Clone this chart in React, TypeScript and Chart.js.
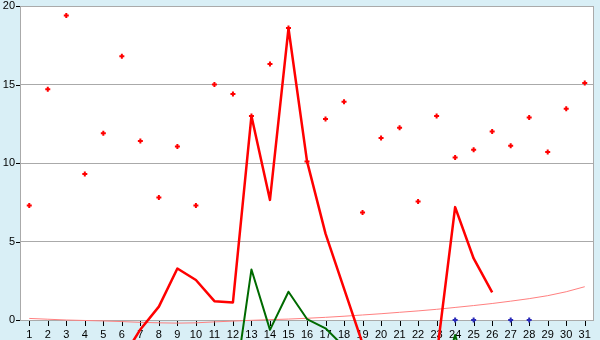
import React, { useEffect, useRef } from "react";
import { Chart, registerables } from "chart.js";
Chart.register(...registerables);

const days = Array.from({ length: 31 }, (_, i) => String(i + 1));

const markerValues = [7.3, 14.7, 19.4, 9.3, 11.9, 16.8, 11.4, 7.8, 11.05, 7.3, 15.0, 14.4, 13.0, 16.3, 18.6, 10.1, 12.8, 13.9, 6.85, 11.6, 12.25, 7.55, 13.0, 10.35, 10.85, 12.0, 11.1, 12.9, 10.7, 13.45, 15.1];

const redLine = [null, null, null, null, null, -2.5, -0.6, 0.85, 3.28, 2.55, 1.2, 1.12, 13.0, 7.65, 18.58, 10.12, 5.5, 2.0, -1.5, null, null, null, -2.3, 7.19, 3.92, 1.76, null, null, null, null, null];

const greenLine = [null, null, null, null, null, null, null, null, null, null, null, -5, 3.22, -0.63, 1.8, 0.06, -0.53, -1.7, null, null, null, null, -5, -0.95, -5, null, null, null, null, null, null];

const trendLine = [0.1, 0.05, 0.0, -0.03, -0.06, -0.1, -0.15, -0.18, -0.2, -0.18, -0.12, -0.07, -0.02, 0.02, 0.06, 0.11, 0.17, 0.24, 0.32, 0.4, 0.49, 0.58, 0.68, 0.8, 0.92, 1.05, 1.2, 1.36, 1.55, 1.8, 2.12];

const zeroMarks = [null, null, null, null, null, null, null, null, null, null, null, null, null, null, null, null, null, null, null, null, null, null, null, 0, 0, null, 0, 0, null, null, null];

const yTicks = [0, 5, 10, 15, 20];

const framePlugin = {
  id: "frame",
  beforeDraw(chart: any) {
    const { ctx, chartArea } = chart;
    ctx.save();
    ctx.fillStyle = "#d9eff6";
    ctx.fillRect(0, 0, chart.width, chart.height);
    ctx.fillStyle = "#ffffff";
    ctx.fillRect(chartArea.left, chartArea.top, chartArea.right - chartArea.left, chartArea.bottom - chartArea.top);
    ctx.restore();
  },
  beforeDatasetsDraw(chart: any) {
    const { ctx, chartArea } = chart;
    const xs = chart.scales.x;
    const ys = chart.scales.y;
    ctx.save();
    ctx.strokeStyle = "#aaaaaa";
    ctx.lineWidth = 1;
    ctx.strokeRect(chartArea.left + 0.5, chartArea.top + 0.5, chartArea.right - chartArea.left - 1, chartArea.bottom - chartArea.top);
    ctx.strokeStyle = "#000000";
    ctx.beginPath();
    for (const v of yTicks) {
      const y = Math.round(ys.getPixelForValue(v)) + 0.5;
      ctx.moveTo(chartArea.left - 4, y);
      ctx.lineTo(chartArea.left, y);
    }
    for (let i = 0; i < days.length; i++) {
      const x = Math.round(xs.getPixelForValue(i)) + 0.5;
      ctx.moveTo(x, chartArea.bottom + 1);
      ctx.lineTo(x, chartArea.bottom + 6);
    }
    ctx.stroke();
    ctx.restore();
  },
};

export default function App() {
  const ref = useRef<HTMLCanvasElement>(null);
  useEffect(() => {
    document.body.style.margin = "0";
    const font = { family: "'Liberation Sans', Arial, sans-serif", size: 11 };
    const chart = new Chart(ref.current!, {
      type: "line",
      data: {
        labels: days,
        datasets: [
          {
            label: "marks",
            data: markerValues,
            showLine: false,
            pointStyle: "cross",
            pointRadius: 2.5,
            pointBorderWidth: 2,
            pointBorderColor: "#ff0000",
            pointBackgroundColor: "#ff0000",
            borderColor: "#ff0000",
            clip: false,
          },
          {
            label: "zero",
            data: zeroMarks,
            showLine: false,
            pointStyle: "cross",
            pointRadius: 2.5,
            pointBorderWidth: 2,
            pointBorderColor: "#2a2ab8",
            borderColor: "#2a2ab8",
            clip: false,
          },
          {
            label: "red",
            data: redLine,
            borderColor: "#ff0000",
            borderWidth: 2.5,
            borderJoinStyle: "round",
            pointRadius: 0,
            tension: 0,
            spanGaps: false,
            clip: false,
          },
          {
            label: "green",
            data: greenLine,
            borderColor: "#006a00",
            borderWidth: 2,
            borderJoinStyle: "round",
            pointRadius: 0,
            tension: 0,
            spanGaps: false,
            clip: false,
          },
          {
            label: "trend",
            data: trendLine,
            borderColor: "#ff8080",
            borderWidth: 1,
            pointRadius: 0,
            tension: 0,
            clip: false,
          },
        ],
      },
      options: {
        responsive: false,
        animation: false,
        devicePixelRatio: 1,
        layout: { padding: { top: 5, right: 5, left: 0, bottom: 0 } },
        plugins: { legend: { display: false }, tooltip: { enabled: false } },
        scales: {
          x: {
            type: "category",
            offset: true,
            grid: { display: false, drawTicks: false },
            border: { display: false },
            ticks: { autoSkip: false, maxRotation: 0, padding: 8, color: "#000", font },
            afterFit: (s: any) => { s.height = 20; s.paddingLeft = 0; s.paddingRight = 0; },
          },
          y: {
            min: 0,
            max: 20,
            grid: { color: "#aaaaaa", drawTicks: false, lineWidth: 1 },
            border: { display: false },
            ticks: { stepSize: 5, padding: 5, color: "#000", font },
            afterFit: (s: any) => { s.width = 20; s.paddingTop = 0; s.paddingBottom = 0; },
          },
        },
      },
      plugins: [framePlugin],
    });
    return () => chart.destroy();
  }, []);
  return (
    <div style={{ width: 600, height: 340 }}>
      <canvas ref={ref} width={600} height={340} style={{ display: "block" }} />
    </div>
  );
}
